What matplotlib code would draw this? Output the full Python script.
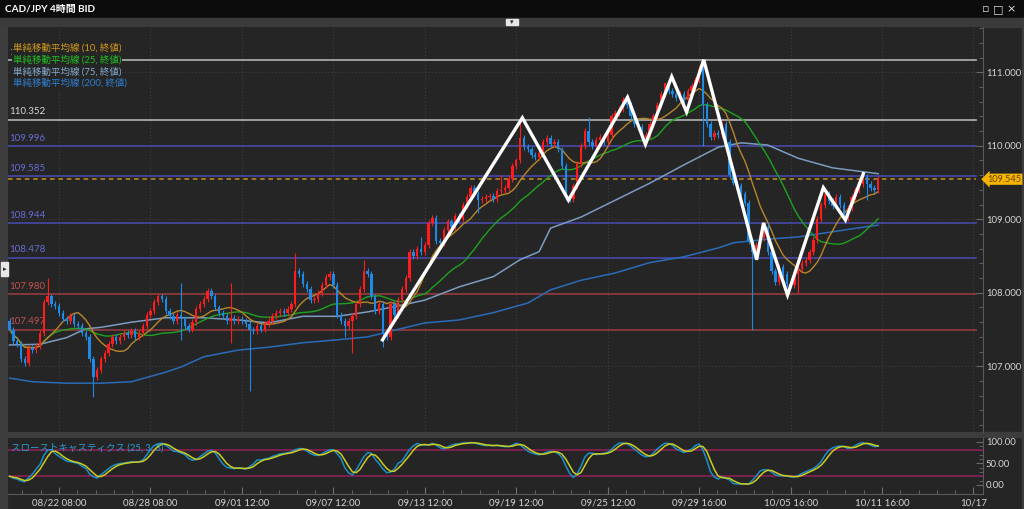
import numpy as np
import pandas as pd
import matplotlib
matplotlib.use('Agg')
import matplotlib.pyplot as plt
from matplotlib.patches import Rectangle

plt.rcParams['font.family'] = ['Lato', 'Noto Sans CJK JP', 'DejaVu Sans']

# 4h closes
closes = [
    107.50, 107.35, 107.30, 107.10, 107.05, 107.25, 107.22, 107.28, 107.45, 107.88,
    107.95, 107.85, 107.82, 107.72, 107.65, 107.62, 107.68, 107.58, 107.55, 107.45,
    107.40, 107.10, 106.85, 106.95, 107.10, 107.18, 107.30, 107.40, 107.35, 107.40,
    107.45, 107.42, 107.48, 107.40, 107.45, 107.55, 107.70, 107.75, 107.88, 107.95,
    107.92, 107.75, 107.68, 107.62, 107.70, 107.65, 107.55, 107.50, 107.60, 107.78,
    107.85, 107.92, 108.02, 107.95, 107.80, 107.72, 107.68, 107.62, 107.66, 107.62,
    107.65, 107.62, 107.58, 107.50, 107.48, 107.55, 107.50, 107.58, 107.62, 107.68,
    107.72, 107.75, 107.72, 107.78, 107.85, 108.30, 108.25, 108.12, 108.05, 107.90,
    107.92, 108.00, 108.10, 108.22, 108.25, 108.10, 107.70, 107.62, 107.55, 107.62,
    107.68, 107.85, 108.05, 108.30, 108.25, 107.95, 107.75, 107.85, 107.45, 107.40,
    107.85, 107.70, 107.90, 108.05, 108.20, 108.55, 108.50, 108.60, 108.55, 108.65,
    108.95, 109.02, 108.70, 108.68, 108.85, 108.97, 108.90, 109.05, 109.00, 109.20,
    109.30, 109.42, 109.35, 109.26, 109.28, 109.30, 109.32, 109.28, 109.38, 109.40,
    109.42, 109.55, 109.72, 109.80, 110.10, 109.98, 109.95, 109.88, 109.85, 109.90,
    110.05, 110.10, 110.02, 110.05, 109.95, 109.72, 109.30, 109.28, 109.45, 109.75,
    110.00, 110.20, 110.05, 110.00, 110.08, 110.12, 110.05, 110.15, 110.40, 110.45,
    110.50, 110.62, 110.55, 110.40, 110.30, 110.25, 110.10, 110.15, 110.30, 110.40,
    110.55, 110.70, 110.85, 110.75, 110.70, 110.65, 110.70, 110.62, 110.75, 110.82,
    110.90, 111.05, 110.55, 110.30, 110.12, 110.18, 110.15, 110.30, 110.05, 109.60,
    109.50, 109.45, 109.35, 109.22, 108.70, 108.55, 108.65, 108.75, 108.90, 108.55,
    108.30, 108.15, 108.35, 108.25, 108.12, 108.10, 108.25, 108.32, 108.40, 108.45,
    108.55, 108.72, 109.00, 109.20, 109.35, 109.25, 109.18, 109.30, 109.20, 109.02,
    109.15, 109.30, 109.40, 109.48, 109.58, 109.48, 109.42, 109.40, 109.545,
]
first_open = 107.62
# long wicks that stand out
high_marks = {10: 108.20, 45: 108.13, 58: 108.13, 75: 108.54, 93: 108.45, 108: 108.76,
              129: 109.60, 134: 110.39, 152: 110.39, 172: 110.85}
low_marks = {22: 106.58, 45: 107.36, 58: 107.32, 63: 106.66, 88: 107.40, 90: 107.18,
             98: 107.26, 123: 109.08, 182: 110.00, 195: 107.49, 207: 108.00, 225: 109.26}
WICK = 0.04

# slow moving averages sampled from the chart (bar index, price)
ma75_idx = [0, 8, 15, 20, 24, 32, 41, 51, 60, 68, 77, 86, 94, 101, 109, 118, 127, 134,
            139, 142, 150, 159, 168, 177, 186, 192, 199, 207, 216, 225, 228]
ma75_val = [107.29, 107.30, 107.39, 107.51, 107.53, 107.60, 107.66, 107.66, 107.63, 107.59,
            107.68, 107.68, 107.74, 107.81, 107.90, 108.08, 108.22, 108.45, 108.56, 108.88,
            109.03, 109.26, 109.49, 109.74, 109.98, 110.04, 110.01, 109.83, 109.70, 109.64,
            109.62]
ma200_idx = [0, 6, 15, 24, 32, 41, 45, 51, 60, 68, 77, 86, 94, 101, 109, 118, 127, 136,
             142, 150, 159, 168, 177, 186, 190, 199, 207, 216, 225, 228]
ma200_val = [106.84, 106.79, 106.77, 106.77, 106.79, 106.92, 106.99, 107.13, 107.22, 107.26,
             107.32, 107.36, 107.40, 107.49, 107.59, 107.63, 107.73, 107.86, 108.04, 108.17,
             108.27, 108.41, 108.49, 108.61, 108.68, 108.73, 108.76, 108.83, 108.90, 108.92]

# horizontal levels
levels = [111.165, 110.352, 109.996, 109.585, 108.944, 108.478, 107.980, 107.497]
level_line_colors = ['#a8a8a8', '#a8a8a8', '#46469e', '#46469e', '#46469e', '#46469e',
                     '#8c3a3a', '#8c3a3a']
level_text_colors = ['#bdbdbd', '#d8d8d8', '#6a6ad6', '#6a6ad6', '#6a6ad6', '#6a6ad6',
                     '#c25050', '#c25050']
last_price = 109.545

# hand-drawn zigzag (bar index, price)
zig_idx = [97.9, 134.6, 146.7, 162.2, 166.9, 173.8, 177.7, 182.2, 196.1, 197.9, 204.2,
           213.6, 219.4, 224.1]
zig_val = [107.36, 110.38, 109.26, 110.66, 110.02, 110.94, 110.46, 111.17, 108.45, 108.95,
           107.97, 109.43, 108.99, 109.62]

tick_pos = [13, 37, 61, 85, 109, 133, 157, 181, 205, 229, 253]
tick_labels = ['08/22 08:00', '08/28 08:00', '09/01 12:00', '09/07 12:00', '09/13 12:00',
               '09/19 12:00', '09/25 12:00', '09/29 16:00', '10/05 16:00', '10/11 16:00',
               '10/17']
minor_pos = np.arange(13 - 4.8 * 2, 256, 4.8)

legend_labels = ['単純移動平均線 (10, 終値)', '単純移動平均線 (25, 終値)',
                 '単純移動平均線 (75, 終値)', '単純移動平均線 (200, 終値)']
legend_colors = ['#d39a1c', '#22c022', '#86abd2', '#2f7fd2']

BG = '#252525'
W, H = 1024, 509

c = pd.Series(closes)
o = c.shift(1).fillna(first_open)
hi = np.maximum(o, c) + WICK
lo = np.minimum(o, c) - WICK
for k, v in high_marks.items():
    hi[k] = v
for k, v in low_marks.items():
    lo[k] = v
x = np.arange(len(c))
up = c >= o
cols = np.where(up, '#ff1c1c', '#1e8ae6')

ma10 = c.rolling(10, min_periods=1).mean()
ma25 = c.rolling(25, min_periods=1).mean()

ll = lo.rolling(25, min_periods=1).min()
hh = hi.rolling(25, min_periods=1).max()
fast_k = 100 * (c - ll) / (hh - ll)
slow_k = fast_k.rolling(3, min_periods=1).mean()
slow_d = slow_k.rolling(3, min_periods=1).mean()

fig = plt.figure(figsize=(W / 100, H / 100), dpi=100, facecolor=BG)


def fx(px):
    return px / W


def fy(py):
    return 1 - py / H


ax = fig.add_axes([fx(8), fy(432), fx(975), (432 - 27) / H])
sx = fig.add_axes([fx(8), fy(494), fx(975), (494 - 438) / H], sharex=ax)
for a in (ax, sx):
    a.set_facecolor(BG)
    for s in ('top', 'left', 'bottom'):
        a.spines[s].set_visible(False)
    a.spines['right'].set_color('#5a5a5a')
    a.yaxis.tick_right()
    a.tick_params(axis='y', which='both', direction='in', colors='#6a6a6a',
                  labelcolor='#d6d6d6', labelsize=6.8, pad=2)
    a.tick_params(axis='y', which='major', length=5)
    a.tick_params(axis='y', which='minor', length=3)

ax.set_xlim(-0.4, 255.5)
ax.set_ylim(106.106, 111.616)
ax.set_yticks([107, 108, 109, 110, 111])
ax.set_yticks(np.arange(106.2, 111.61, 0.2), minor=True)
ax.yaxis.set_major_formatter(plt.FormatStrFormatter('%.3f'))
ax.tick_params(axis='x', which='both', bottom=False, labelbottom=False)
for p in tick_pos:
    ax.axvline(p, color='#3e3e3e', lw=0.8, ls=(0, (1, 2)), zorder=0)
for p in [107, 108, 109, 110, 111]:
    ax.axhline(p, color='#3e3e3e', lw=0.8, ls=(0, (1, 2)), zorder=0)

# levels
for lv, lc, tc in zip(levels, level_line_colors, level_text_colors):
    ax.axhline(lv, xmax=0.993, color=lc, lw=1.3, zorder=1)
    ax.annotate(f'{lv:.3f}', xy=(0, lv), xycoords=('axes fraction', 'data'),
                xytext=(1, 2.5), textcoords='offset points', color=tc, fontsize=7,
                va='bottom', ha='left', zorder=2)
ax.axhline(last_price, xmax=0.993, color='#c8901e', lw=1.1, ls=(0, (3, 2.5)), zorder=1)

# moving averages
ax.plot(ma200_idx, ma200_val, color='#2a6cb8', lw=1.1, zorder=3)
ax.plot(ma75_idx, ma75_val, color='#7b9cc0', lw=1.1, zorder=3)
ax.plot(x, ma25, color='#1fa21f', lw=1.0, zorder=3)
ax.plot(x, ma10, color='#b8862a', lw=1.0, zorder=3)

# candles
ax.vlines(x, lo, hi, colors=cols, lw=0.8, zorder=4)
body = np.maximum(np.abs(c - o), 0.012)
ax.bar(x, body, bottom=np.minimum(o, c), width=0.62, color=cols, zorder=5)

ax.plot(zig_idx, zig_val, color='white', lw=2.4, zorder=6, solid_joinstyle='miter')

# last price tag
ax.annotate(f'{last_price:.3f}', xy=(1.0, last_price), xycoords=('axes fraction', 'data'),
            xytext=(3, 0), textcoords='offset points', fontsize=6.6, color='#6a4400',
            va='center', ha='left', annotation_clip=False,
            bbox=dict(boxstyle='larrow,pad=0.12', fc='#f5b400', ec='none'))

# MA legend
for i, (lab, col) in enumerate(zip(legend_labels, legend_colors)):
    fig.text(fx(13), fy(48 + i * 11.7), lab, color=col, fontsize=6.8, va='center',
             ha='left', bbox=dict(fc=BG, ec='none', pad=0.6))

# stochastic
sx.set_ylim(-20.8, 108.5)
sx.axhline(80, color='#8c1f56', lw=1.2)
sx.axhline(20, color='#8c1f56', lw=1.2)
sx.plot(x, slow_k, color='#1b8fcc', lw=1.1)
sx.plot(x, slow_d, color='#cccc1e', lw=1.1)
sx.set_yticks([0, 50, 100])
sx.set_yticks(np.arange(0, 101, 10), minor=True)
sx.yaxis.set_major_formatter(plt.FormatStrFormatter('%.2f'))
sx.text(0.003, 0.83, 'スローストキャスティクス (25, 3, 3)', transform=sx.transAxes,
        color='#2a9fd6', fontsize=6.8, va='center', ha='left')
sx.spines['bottom'].set_visible(True)
sx.spines['bottom'].set_color('#5a5a5a')
sx.set_xticks(tick_pos)
sx.set_xticks(minor_pos, minor=True)
sx.set_xticklabels(tick_labels)
sx.tick_params(axis='x', which='both', direction='in', colors='#707070',
               labelcolor='#d6d6d6', labelsize=7, pad=3)
sx.tick_params(axis='x', which='major', length=5)
sx.tick_params(axis='x', which='minor', length=3)

# window chrome
fig.patches.append(Rectangle((0, fy(18)), 1, 18 / H, transform=fig.transFigure,
                             color='#0c0c0c', zorder=-1))
fig.text(fx(5), fy(9), 'CAD/JPY 4時間 BID', color='white', fontsize=7.2,
         fontweight='bold', va='center')
for px, ch in [(986, '▫'), (998, '□'), (1011, '×')]:
    fig.text(fx(px), fy(9), ch, color='#dddddd', fontsize=8, va='center', ha='center',
             family='DejaVu Sans')
fig.patches.append(Rectangle((0, fy(27)), 1, 9 / H, transform=fig.transFigure,
                             color='#3b3b3b', zorder=-1))
fig.patches.append(Rectangle((fx(506), fy(25)), fx(12), 6 / H, transform=fig.transFigure,
                             color='#e6e6e6', zorder=1))
fig.text(fx(512), fy(22), '▾', color='#222222', fontsize=5, va='center', ha='center',
         family='DejaVu Sans')
fig.patches.append(Rectangle((0, 0), fx(7), fy(27), transform=fig.transFigure,
                             color='#3d3d3d', zorder=-1))
fig.patches.append(Rectangle((fx(1), fy(276)), fx(7), 14 / H, transform=fig.transFigure,
                             color='#e6e6e6', zorder=1))
fig.text(fx(4.5), fy(269), '▸', color='#222222', fontsize=5, va='center', ha='center',
         family='DejaVu Sans')
fig.patches.append(Rectangle((fx(7), fy(437)), 1, 5 / H, transform=fig.transFigure,
                             color='#3d3d3d', zorder=-1))
fig.patches.append(Rectangle((fx(1022), 0), fx(2), fy(18), transform=fig.transFigure,
                             color='#3d3d3d', zorder=-1))

fig.savefig('out.png', dpi=100, facecolor=BG)
